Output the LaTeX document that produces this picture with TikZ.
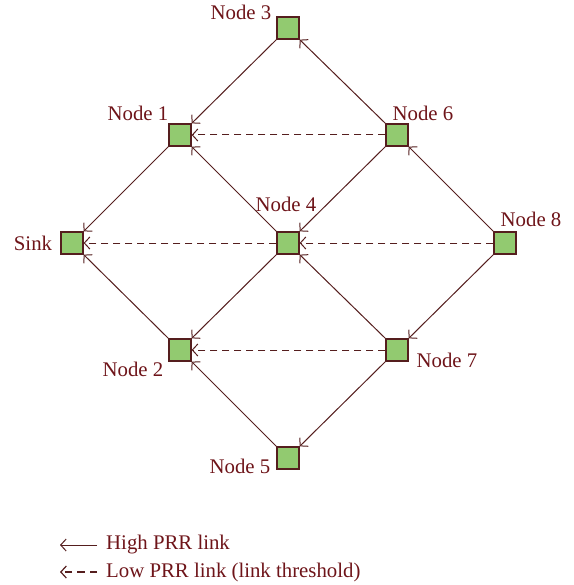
\documentclass[tikz,border=0pt]{standalone}
\usepackage{fontspec}
\setmainfont{Liberation Serif}
\usetikzlibrary{arrows.meta}
\definecolor{lnk}{RGB}{85,30,30}
\definecolor{txt}{RGB}{110,20,25}
\definecolor{nodegreen}{RGB}{146,202,112}
\tikzset{
  sq/.style={draw=lnk,fill=nodegreen,line width=1.3pt,minimum size=22pt,inner sep=0pt},
  lab/.style={text=txt,font=\fontsize{20.8}{23}\selectfont,inner sep=0pt},
  hi/.style={draw=lnk,line width=1pt,-{Straight Barb[length=5.5pt,width=12pt]}},
  lo/.style={hi,dash pattern=on 7pt off 5pt},
}
\begin{document}
\begin{tikzpicture}[x=1pt,y=-1pt]
\useasboundingbox (0,0) rectangle (573,585);
\node[sq] (s) at (72,243) {};
\node[sq] (n1) at (180,135) {};
\node[sq] (n2) at (180,350) {};
\node[sq] (n3) at (288,28) {};
\node[sq] (n4) at (288,243) {};
\node[sq] (n5) at (288,458) {};
\node[sq] (n6) at (397,135) {};
\node[sq] (n7) at (397,350) {};
\node[sq] (n8) at (505,243) {};
\node[lab] (ls) at (33,243) {Sink};
\node[lab] (l1) at (138,113) {Node 1};
\node[lab] (l2) at (133,369) {Node 2};
\node[lab] (l3) at (241,12) {Node 3};
\node[lab] (l4) at (286,204) {Node 4};
\node[lab] (l5) at (240,466) {Node 5};
\node[lab] (l6) at (423,113) {Node 6};
\node[lab] (l7) at (447,360) {Node 7};
\node[lab] (l8) at (531,219) {Node 8};
% solid links
\draw[hi] (n3.south west) -- (n1.north east);
\draw[hi] (n6.north west) -- (n3.south east);
\draw[hi] (n1.south west) -- (s.north east);
\draw[hi] (n4.north west) -- (n1.south east);
\draw[hi] (n6.south west) -- (n4.north east);
\draw[hi] (n8.north west) -- (n6.south east);
\draw[hi] (n2.north west) -- (s.south east);
\draw[hi] (n4.south west) -- (n2.north east);
\draw[hi] (n7.north west) -- (n4.south east);
\draw[hi] (n8.south west) -- (n7.north east);
\draw[hi] (n5.north west) -- (n2.south east);
\draw[hi] (n7.south west) -- (n5.north east);
% dashed links
\draw[lo] (n6.west) -- (n1.east);
\draw[lo] (n4.west) -- (s.east);
\draw[lo] (n8.west) -- (n4.east);
\draw[lo] (n7.west) -- (n2.east);
% legend
\coordinate (a1) at (60,545);
\coordinate (b1) at (97,545);
\coordinate (a2) at (60,572);
\coordinate (b2) at (97,572);
\draw[hi] (b1) -- (a1);
\draw[lo,line width=1.2pt,dash pattern=on 7.5pt off 5pt] (b2) -- (a2);
\node[lab,anchor=west] (t1) at (106,545) {High PRR link};
\node[lab,anchor=west] (t2) at (106,572) {Low PRR link (link threshold)};
\end{tikzpicture}
\end{document}
